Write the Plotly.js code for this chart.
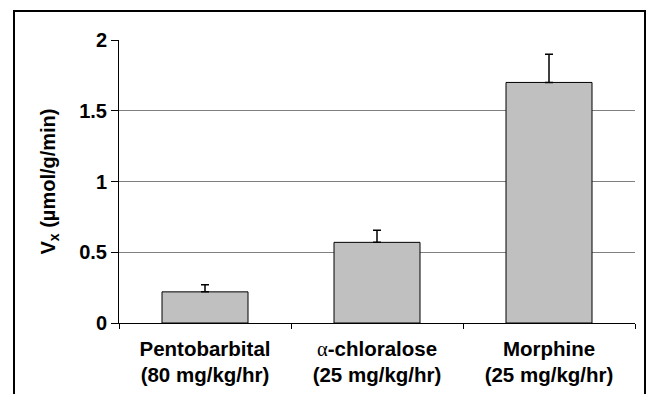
<!DOCTYPE html>
<html>
<head>
<meta charset="utf-8">
<script src="https://cdn.plot.ly/plotly-3.0.1.min.js"></script>
<style>
  html, body { margin: 0; padding: 0; background: #fff; }
  #wrap { position: relative; width: 647px; height: 394px; overflow: hidden; }
  #chart { width: 647px; height: 394px; }
  #frame { position: absolute; left: 13px; top: 10px; width: 629px; height: 400px;
           border: 2px solid #000; pointer-events: none; }
</style>
</head>
<body>
<div id="wrap">
  <div id="chart"></div>
  <div id="frame"></div>
</div>
<script>
// Data
const categories = ["Pentobarbital", "α-chloralose", "Morphine"];
const doses = ["(80 mg/kg/hr)", "(25 mg/kg/hr)", "(25 mg/kg/hr)"];
const values = [0.22, 0.57, 1.70];
const errors = [0.05, 0.085, 0.20];
const yTicks = [0, 0.5, 1, 1.5, 2];

const fontFam = "Arial, 'Liberation Sans', sans-serif";

function fmtName(n) {
  return n.replace("α", "<span style='font-family:\"Liberation Serif\",serif;font-weight:normal'>α</span>");
}
const tickText = categories.map((c, i) => "<b>" + fmtName(c) + "</b><br><b>" + doses[i] + "</b>");

const trace = {
  type: "bar",
  x: categories,
  y: values,
  marker: { color: "#c0c0c0", line: { color: "#000", width: 1 } },
  error_y: {
    type: "data",
    symmetric: false,
    array: errors,
    arrayminus: errors.map(() => 0),
    color: "#000",
    thickness: 1.5,
    width: 4
  },
  hoverinfo: "none"
};

const layout = {
  width: 647,
  height: 394,
  margin: { l: 119, r: 12, t: 40, b: 71 },
  paper_bgcolor: "#fff",
  plot_bgcolor: "#fff",
  showlegend: false,
  bargap: 0.5,
  font: { family: fontFam, color: "#000", size: 20 },
  xaxis: {
    type: "category",
    tickmode: "array",
    tickvals: categories,
    ticktext: tickText,
    tickson: "boundaries",
    ticks: "outside",
    ticklen: 5,
    tickcolor: "#000",
    tickwidth: 1,
    ticklabelstandoff: 7,
    showline: true,
    linecolor: "#000",
    linewidth: 1,
    showgrid: false,
    tickfont: { family: fontFam, size: 20.5, color: "#000" },
    fixedrange: true
  },
  yaxis: {
    range: [0, 2],
    tickmode: "array",
    tickvals: yTicks,
    ticktext: yTicks.map(String),
    ticks: "outside",
    ticklen: 7,
    tickcolor: "#000",
    tickwidth: 1,
    showline: true,
    linecolor: "#000",
    linewidth: 1,
    showgrid: true,
    gridcolor: "#808080",
    gridwidth: 1,
    zeroline: false,
    tickfont: { family: fontFam, size: 20, color: "#000", weight: "bold" },
    title: {
      text: "<b>V<sub>x</sub> (µmol/g/min)</b>",
      font: { family: fontFam, size: 20, color: "#000" },
      standoff: 18
    },
    fixedrange: true
  }
};

Plotly.newPlot("chart", [trace], layout, { displayModeBar: false, staticPlot: true });
</script>
</body>
</html>
